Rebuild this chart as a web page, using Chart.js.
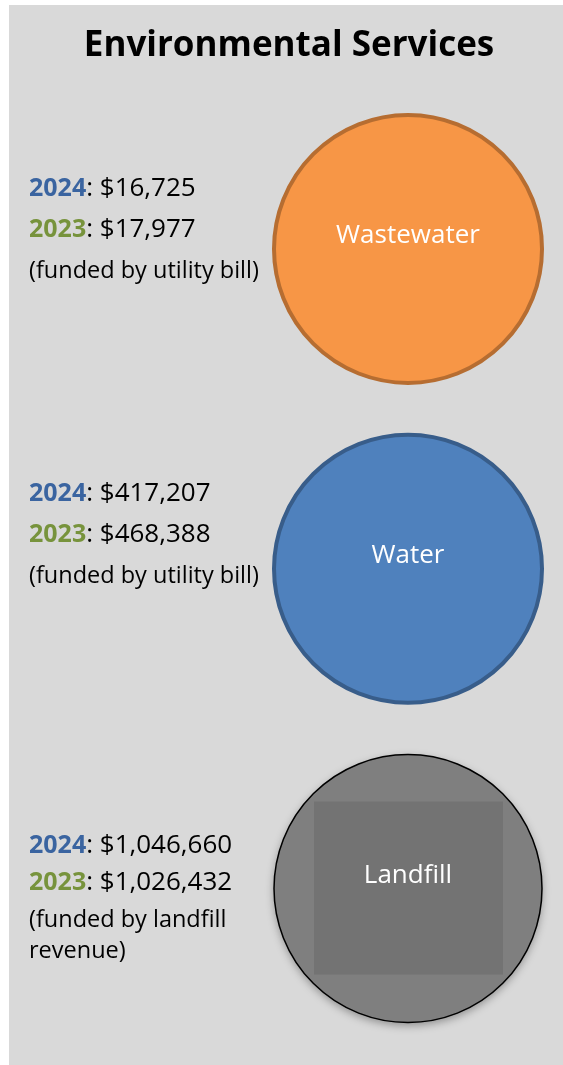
<!DOCTYPE html>
<html>
<head>
<meta charset="utf-8">
<script src="https://cdn.jsdelivr.net/npm/chart.js@4/dist/chart.umd.min.js"></script>
<style>
  html, body { margin: 0; padding: 0; background: #ffffff; }
  #wrap { width: 563px; height: 1065px; }
</style>
</head>
<body>
<div id="wrap"><canvas id="chart" width="563" height="1065"></canvas></div>
<script>
// Service areas and their budget figures
const categories = ['Wastewater', 'Water', 'Landfill'];
const amounts2024 = [16725, 417207, 1046660];
const amounts2023 = [17977, 468388, 1026432];
const fundingNotes = [
  ['(funded by utility bill)'],
  ['(funded by utility bill)'],
  ['(funded by landfill', 'revenue)']
];
const yearLabels = ['2024', '2023'];
const chartTitle = 'Environmental Services';

const FONT = '"Open Sans", "DejaVu Sans", sans-serif';
const money = v => '$' + v.toLocaleString('en-US');

// Grey backdrop panel plus the heading
const backdrop = {
  id: 'backdrop',
  beforeDraw(chart) {
    const { ctx, width, height } = chart;
    ctx.save();
    ctx.fillStyle = '#ffffff';
    ctx.fillRect(0, 0, width, height);
    ctx.fillStyle = '#D9D9D9';
    ctx.fillRect(9, 5, width - 9, height - 5);
    ctx.fillStyle = '#000000';
    ctx.font = 'bold 35px ' + FONT;
    ctx.textAlign = 'center';
    ctx.textBaseline = 'middle';
    ctx.fillText(chartTitle, 289, 46);
    ctx.restore();
  },
  // soft shadow under the landfill circle
  beforeDatasetsDraw(chart) {
    const el = chart.getDatasetMeta(0).data[2];
    if (!el) return;
    const { ctx } = chart;
    ctx.save();
    ctx.shadowColor = 'rgba(0,0,0,0.35)';
    ctx.shadowBlur = 8;
    ctx.shadowOffsetY = 3;
    ctx.fillStyle = '#7F7F7F';
    ctx.beginPath();
    ctx.arc(el.x, el.y, 134, 0, Math.PI * 2);
    ctx.fill();
    ctx.restore();
  }
};

// Circle captions and the figures listed beside each circle
const annotations = {
  id: 'annotations',
  afterDatasetsDraw(chart) {
    const { ctx } = chart;
    const points = chart.getDatasetMeta(0).data;
    ctx.save();

    // darker text-box panel inside the landfill circle
    const lf = points[2];
    ctx.fillStyle = '#737373';
    ctx.fillRect(lf.x - 94, lf.y - 87, 189, 173);

    ctx.fillStyle = '#ffffff';
    ctx.font = '26px ' + FONT;
    ctx.textAlign = 'center';
    ctx.textBaseline = 'middle';
    points.forEach((p, i) => ctx.fillText(categories[i], p.x, p.y - 13));

    const tops = [189, 494, 846];
    const gaps = [41, 41, 37];
    const yearColors = ['#3A64A0', '#77933C'];
    const left = 29;
    ctx.textAlign = 'left';
    categories.forEach((c, i) => {
      const rows = [amounts2024[i], amounts2023[i]];
      let y = tops[i];
      rows.forEach((v, r) => {
        ctx.font = 'bold 25px ' + FONT;
        ctx.fillStyle = yearColors[r];
        ctx.fillText(yearLabels[r], left, y);
        const w = ctx.measureText(yearLabels[r]).width;
        ctx.font = '26px ' + FONT;
        ctx.fillStyle = '#000000';
        ctx.fillText(': ' + money(v), left + w, y);
        y += gaps[i];
      });
      ctx.font = '23.5px ' + FONT;
      fundingNotes[i].forEach(line => {
        ctx.fillText(line, left, y);
        y += gaps[i] - 6;
      });
    });
    ctx.restore();
  }
};

new Chart(document.getElementById('chart'), {
  type: 'scatter',
  data: {
    datasets: [{
      data: categories.map(c => ({ x: 0, y: c })),
      pointRadius: 134,
      pointHoverRadius: 134,
      pointBackgroundColor: ['#F79646', '#4F81BD', '#7F7F7F'],
      pointBorderColor: ['#B66D31', '#385D8A', '#000000'],
      pointBorderWidth: [4, 4, 1.5],
      clip: false
    }]
  },
  options: {
    responsive: false,
    animation: false,
    events: [],
    layout: { autoPadding: false, padding: { left: 272, right: 19, top: 89, bottom: 16.5 } },
    scales: {
      x: { type: 'linear', min: -1, max: 1, display: false },
      y: { type: 'category', labels: categories, offset: true, display: false }
    },
    plugins: { legend: { display: false }, tooltip: { enabled: false } }
  },
  plugins: [backdrop, annotations]
});
</script>
</body>
</html>
